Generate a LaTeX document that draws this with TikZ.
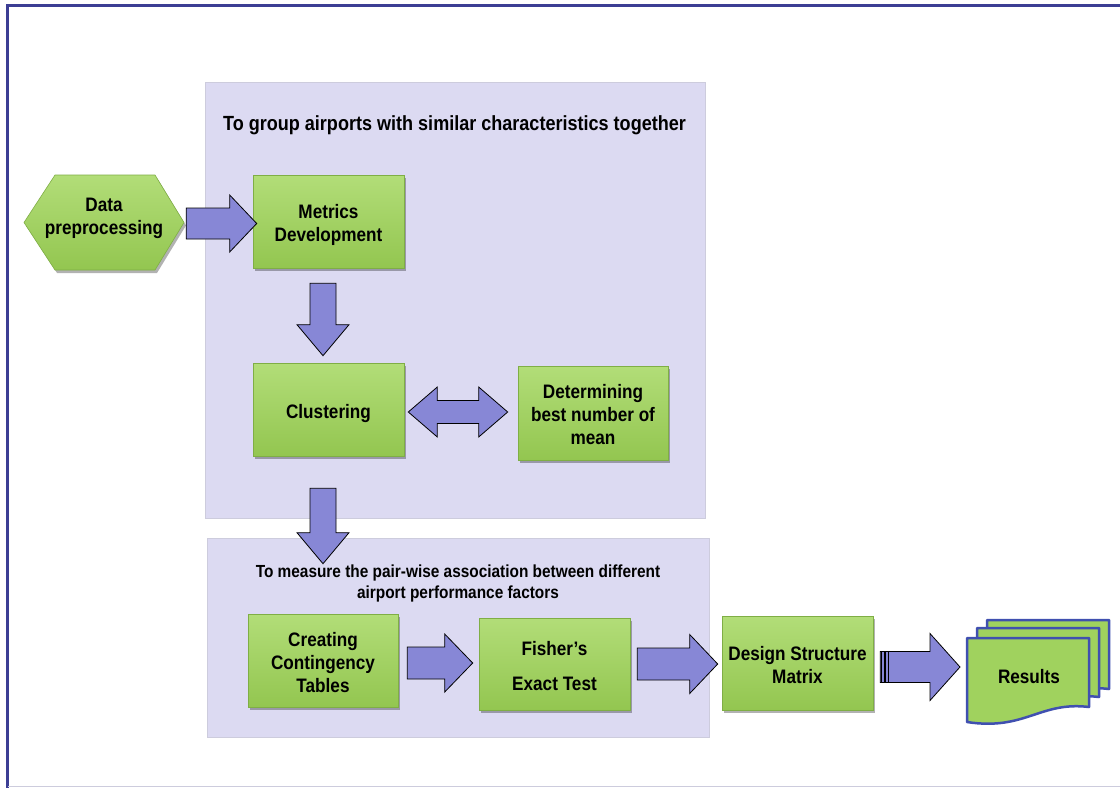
\documentclass[tikz,border=0pt]{standalone}
\usepackage{fontspec}
\setmainfont{Liberation Sans}[FakeStretch=0.88]
\usetikzlibrary{calc,shadows}
\definecolor{framec}{HTML}{3C3E94}
\definecolor{panelc}{HTML}{DCDAF2}
\definecolor{panelb}{HTML}{CDCCDD}
\definecolor{gtop}{HTML}{B2DD78}
\definecolor{gbot}{HTML}{93C650}
\definecolor{gedge}{HTML}{7FAE45}
\definecolor{gmid}{HTML}{A0D25E}
\definecolor{arrowc}{HTML}{8787D6}
\definecolor{docedge}{HTML}{4050B0}
\newcommand\blkR[5]{\draw[barrow] let \p1=#1, \p2=#2 in (\x1,\y2+#3) -- (\x2-#5,\y2+#3) -- (\x2-#5,\y2+#4) -- (\x2,\y2) -- (\x2-#5,\y2-#4) -- (\x2-#5,\y2-#3) -- (\x1,\y2-#3) -- cycle;}
\newcommand\blkD[5]{\draw[barrow] let \p1=#1, \p2=#2 in (\x2-#3,\y1) -- (\x2-#3,\y2+#5) -- (\x2-#4,\y2+#5) -- (\x2,\y2) -- (\x2+#4,\y2+#5) -- (\x2+#3,\y2+#5) -- (\x2+#3,\y1) -- cycle;}
\newcommand\blkLR[5]{\draw[barrow] let \p1=#1, \p2=#2 in (\x1,\y1) -- (\x1+#5,\y1+#4) -- (\x1+#5,\y1+#3) -- (\x2-#5,\y1+#3) -- (\x2-#5,\y1+#4) -- (\x2,\y1) -- (\x2-#5,\y1-#4) -- (\x2-#5,\y1-#3) -- (\x1+#5,\y1-#3) -- (\x1+#5,\y1-#4) -- cycle;}
\newcommand\dn[1]{\raisebox{-4pt}[\height][\depth]{\begin{tabular}{@{}c@{}}#1\end{tabular}}}
\begin{document}
\begin{tikzpicture}[x=1pt,y=-1pt,
  gshape/.style={draw=gedge, line width=0.6pt, top color=gtop, bottom color=gbot,
    drop shadow={shadow xshift=2pt,shadow yshift=-3pt,opacity=0.3,fill=black}},
  btext/.style={align=center, inner sep=2pt, font=\fontsize{19.5}{23}\selectfont\bfseries},
  box/.style={gshape, btext, minimum width=151pt, minimum height=93pt},
  barrow/.style={fill=arrowc, draw=black, line width=0.8pt, line join=miter},
  panel/.style={fill=panelc, draw=panelb, line width=0.6pt},
  ttl/.style={font=\fontsize{20.5}{24}\selectfont\bfseries, align=center},
  ttlb/.style={font=\fontsize{17.5}{21}\selectfont\bfseries, align=center},
  doc/.style={fill=gmid, draw=docedge, line width=2.5pt, line join=round}]
\useasboundingbox (0,0) rectangle (1120,788);
\fill[white] (0,0) rectangle (1120,788);
% frame
\draw[framec, line width=3pt] (1120,5) -- (7,5) -- (7,788);
\draw[panelb, line width=1pt] (8,786.5) -- (1120,786.5);
% panels
\draw[panel] (205,82) rectangle (705,518);
\draw[panel] (207,538) rectangle (709,737);
\node[ttl] (t1) at (454.5,125) {To group airports with similar characteristics together};
\node[ttlb] (t2) at (458,583.5) {To measure the pair-wise association between different\\airport performance factors};
% hexagon node
\draw[gshape] (24,222.5) -- (55,175) -- (155,175) -- (184,222.5) -- (155,270) -- (55,270) -- cycle;
\node[btext, minimum width=160pt, minimum height=95pt] (hex) at (104,218) {Data\\preprocessing};
% boxes
\node[box] (metrics) at (328.5,221.5) {\dn{Metrics\\Development}};
\node[box] (clus) at (328.5,409.5) {\dn{Clustering}};
\node[box, minimum width=150pt, minimum height=94pt] (det) at (593,413) {\dn{Determining\\best number of\\mean}};
\node[box, minimum width=150pt] (cct) at (323,660.5) {\dn{Creating\\Contingency\\Tables}};
\node[box, minimum height=92pt] (fisher) at (554.5,664) {\dn{Fisher’s\\[12pt]Exact Test}};
\node[box, minimum height=94pt] (dsm) at (797.5,663) {\dn{Design Structure\\Matrix}};
% results documents
\foreach \dx/\dy in {20/-18,10/-10,0/0}{
  \draw[doc, shift={(\dx,\dy)}] (967,638) -- (1089,638) -- (1089,707)
    .. controls (1040,701) and (1025,731) .. (967,722) -- cycle;
}
\node[btext] (res) at (1029,677) {Results};
\coordinate (resL) at (960,667);
% arrows
\blkR{($(hex.east)+(2,4.5)$)}{($(metrics.west)+(4,2)$)}{15.5pt}{28.5pt}{27pt}
\blkD{($(metrics.south)+(-5.5,15)$)}{($(clus.north)+(-5.5,-7)$)}{13pt}{26pt}{31pt}
\blkLR{($(clus.east)+(4,2.5)$)}{($(det.west)+(-10,0)$)}{11.5pt}{25pt}{29pt}
\blkD{($(clus.south)+(-5.5,32)$)}{($(cct.north)+(0,-50)$)}{13pt}{26pt}{31pt}
\blkR{($(cct.east)+(9,0)$)}{($(fisher.west)+(-6,-1)$)}{16pt}{29pt}{28pt}
\blkR{($(fisher.east)+(7,0)$)}{($(dsm.west)+(-4,1)$)}{16pt}{29.5pt}{28pt}
\blkR{($(dsm.east)+(7,0)$)}{(resL)}{15.5pt}{33.5pt}{30pt}
\foreach \xx in {881.5,885,888.5}{
  \draw[black, line width=1.3pt] (\xx,652) -- (\xx,683);
}
\end{tikzpicture}
\end{document}
